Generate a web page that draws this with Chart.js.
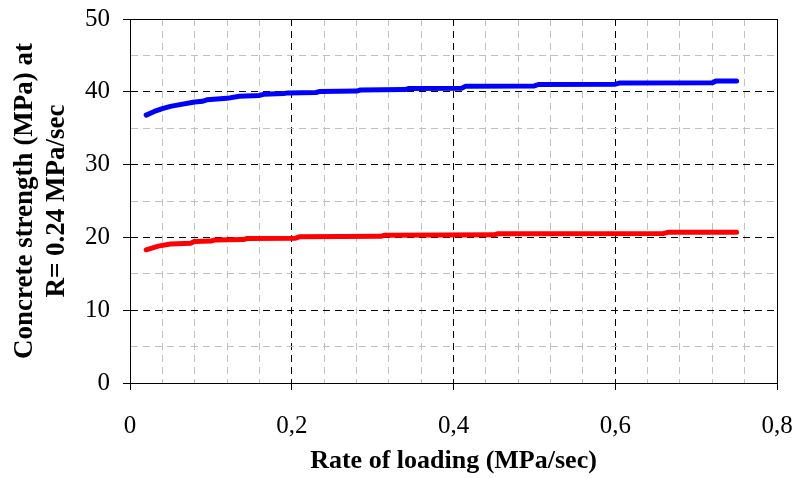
<!DOCTYPE html>
<html>
<head>
<meta charset="utf-8">
<script src="https://cdn.jsdelivr.net/npm/chart.js@4"></script>
<style>
  html, body { margin: 0; padding: 0; background: #fff; }
  #wrap { width: 795px; height: 478px; }
</style>
</head>
<body>
<div id="wrap"><canvas id="chart" width="795" height="478"></canvas></div>
<script>
// values
const upperX = [0.02, 0.03, 0.04, 0.05, 0.06, 0.08, 0.09, 0.095, 0.12, 0.135, 0.16, 0.165, 0.19, 0.195, 0.23, 0.235, 0.28, 0.285, 0.34, 0.345, 0.41, 0.415, 0.50, 0.505, 0.60, 0.605, 0.72, 0.725, 0.75];
const upperY = [36.8, 37.3, 37.7, 38.0, 38.2, 38.6, 38.7, 38.9, 39.1, 39.4, 39.5, 39.65, 39.75, 39.85, 39.9, 40.05, 40.1, 40.25, 40.3, 40.45, 40.5, 40.75, 40.8, 41.0, 41.05, 41.2, 41.25, 41.5, 41.5];
const lowerX = [0.02, 0.035, 0.05, 0.075, 0.08, 0.10, 0.105, 0.14, 0.145, 0.205, 0.21, 0.31, 0.315, 0.45, 0.455, 0.66, 0.665, 0.75];
const lowerY = [18.3, 18.8, 19.1, 19.2, 19.45, 19.5, 19.65, 19.7, 19.85, 19.9, 20.1, 20.15, 20.3, 20.35, 20.5, 20.55, 20.7, 20.7];
const xTickLabels = ['0', '0,2', '0,4', '0,6', '0,8'];
const yTickLabels = ['0', '10', '20', '30', '40', '50'];

const toPoints = (xs, ys) => xs.map((x, i) => ({ x: x, y: ys[i] }));

// index of a major tick, or -1 for the minor ones
function majorIndex(value, step) {
  const k = value / step;
  return Math.abs(k - Math.round(k)) < 1e-6 ? Math.round(k) : -1;
}

const frame = {
  id: 'frame',
  afterDatasetsDraw(chart) {
    const a = chart.chartArea;
    const ctx = chart.ctx;
    ctx.save();
    ctx.strokeStyle = '#000';
    ctx.lineWidth = 1;
    ctx.beginPath();
    ctx.moveTo(a.left, a.top + 0.5);
    ctx.lineTo(a.right + 0.5, a.top + 0.5);
    ctx.lineTo(a.right + 0.5, a.bottom);
    ctx.stroke();
    ctx.restore();
  }
};

const serif = 'Liberation Serif';

new Chart(document.getElementById('chart'), {
  type: 'line',
  data: {
    datasets: [
      {
        data: toPoints(upperX, upperY),
        borderColor: '#0000ff',
        borderWidth: 5,
        pointRadius: 0,
        tension: 0,
        borderCapStyle: 'round',
        borderJoinStyle: 'round'
      },
      {
        data: toPoints(lowerX, lowerY),
        borderColor: '#ff0000',
        borderWidth: 5,
        pointRadius: 0,
        tension: 0,
        borderCapStyle: 'round',
        borderJoinStyle: 'round'
      }
    ]
  },
  options: {
    responsive: false,
    animation: false,
    layout: { padding: { left: 0, top: 19, right: 18, bottom: 0 } },
    plugins: { legend: { display: false }, tooltip: { enabled: false } },
    scales: {
      x: {
        type: 'linear',
        min: 0,
        max: 0.8,
        afterFit(scale) {
          scale.height = 95;
          scale.paddingLeft = 0;
          scale.paddingRight = 0;
        },
        ticks: {
          stepSize: 0.04,
          autoSkip: false,
          maxRotation: 0,
          padding: 21,
          color: '#000',
          font: { family: serif, size: 25 },
          callback(value) {
            const i = majorIndex(value, 0.2);
            return i >= 0 ? xTickLabels[i] : '';
          }
        },
        grid: {
          tickLength: 7,
          color: ctx => majorIndex(ctx.tick.value, 0.2) >= 0 ? '#000' : '#c0c0c0',
          tickColor: ctx => majorIndex(ctx.tick.value, 0.2) >= 0 ? '#000' : 'rgba(0,0,0,0)'
        },
        border: { color: '#000', width: 1, dash: [7, 5] },
        title: {
          display: true,
          text: 'Rate of loading (MPa/sec)',
          color: '#000',
          font: { family: serif, size: 26, weight: 'bold' },
          padding: { top: 0, bottom: 1 }
        }
      },
      y: {
        min: 0,
        max: 50,
        afterFit(scale) {
          scale.width = 130;
          scale.paddingTop = 0;
          scale.paddingBottom = 0;
        },
        ticks: {
          stepSize: 5,
          autoSkip: false,
          padding: 13,
          color: '#000',
          font: { family: serif, size: 25 },
          callback(value) {
            const i = majorIndex(value, 10);
            return i >= 0 ? yTickLabels[i] : '';
          }
        },
        grid: {
          tickLength: 7,
          color: ctx => majorIndex(ctx.tick.value, 10) >= 0 ? '#000' : '#c0c0c0',
          tickColor: ctx => majorIndex(ctx.tick.value, 10) >= 0 ? '#000' : 'rgba(0,0,0,0)'
        },
        border: { color: '#000', width: 1, dash: [7, 5] },
        title: {
          display: true,
          text: ['Concrete strength (MPa) at', 'R= 0.24 MPa/sec'],
          color: '#000',
          font: { family: serif, size: 27, weight: 'bold', lineHeight: 1.185 },
          padding: { top: 9, bottom: 0 }
        }
      }
    }
  },
  plugins: [frame]
});
</script>
</body>
</html>
